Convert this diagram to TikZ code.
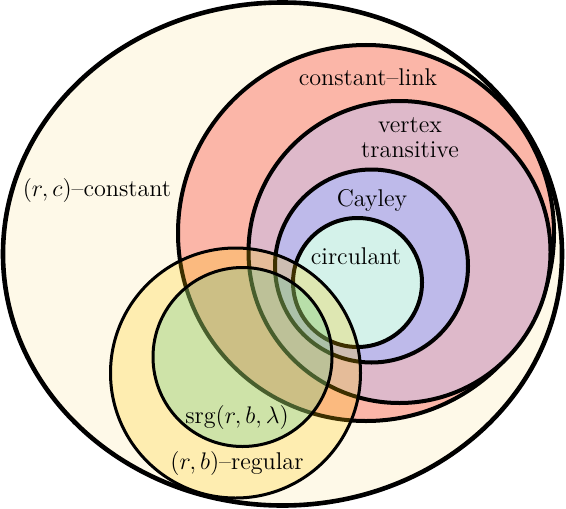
\documentclass[tikz,border=0pt]{standalone}
\begin{document}
\begin{tikzpicture}[x=0.5pt,y=-0.5pt,
  lbl/.style={font=\fontsize{12.1}{14.5}\selectfont, inner sep=0pt, align=center},
  thick line/.style={line width=2pt, draw=black},
  thin line/.style={line width=1.5pt, draw=black}]
\definecolor{cOuter}{RGB}{254,249,232}
\definecolor{cLink}{RGB}{251,182,168}
\definecolor{cVert}{RGB}{222,185,202}
\definecolor{cCay}{RGB}{190,186,234}
\definecolor{cCirc}{RGB}{212,242,234}
\definecolor{cReg}{RGB}{255,200,0}
\definecolor{cSrg}{RGB}{98,205,150}
\useasboundingbox (0,0) rectangle (566,508);
% outer
\path[fill=cOuter, draw=black, line width=2.3pt] (282.5,254) ellipse [x radius=279.5, y radius=251.5];
% constant-link
\path[fill=cLink, thick line] (366,233) circle [radius=188];
% vertex transitive
\path[fill=cVert, thick line] (399.5,252) circle [radius=151];
% Cayley
\path[fill=cCay, thick line] (371.5,266) circle [radius=96.5];
% circulant
\path[fill=cCirc, thick line] (357.5,282.5) circle [radius=64.5];
% (r,b)-regular
\path[fill=cReg, fill opacity=0.24, thin line] (235.5,373) circle [radius=125];
% srg
\path[fill=cSrg, fill opacity=0.3, thin line] (242.5,357) circle [radius=89.5];
% labels
\node[lbl] (tlink) at (368,77) {constant--link};
\node[lbl] (tvert) at (410,138) {vertex\\[-2pt]transitive};
\node[lbl] (tcay) at (372,200) {Cayley};
\node[lbl] (tcirc) at (356,256) {circulant};
\node[lbl] (tconst) at (97,190) {$(r,c)$--constant};
\node[lbl] (tsrg) at (237,417) {srg$(r,b,\lambda)$};
\node[lbl] (treg) at (237,463) {$(r,b)$--regular};
\end{tikzpicture}
\end{document}
